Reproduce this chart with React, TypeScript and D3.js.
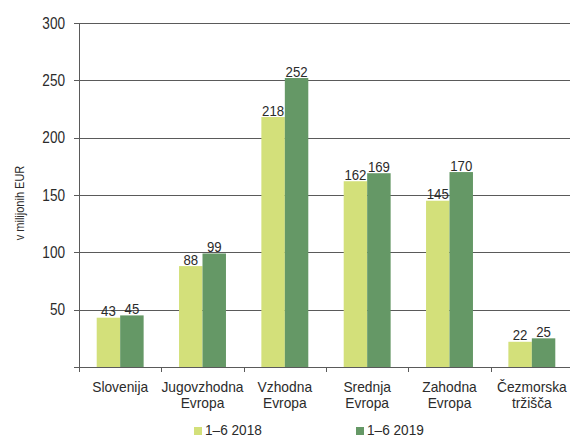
import { useEffect, useRef } from 'react'
import * as d3 from 'd3'

const categories = [
  ['Slovenija'],
  ['Jugovzhodna', 'Evropa'],
  ['Vzhodna', 'Evropa'],
  ['Srednja', 'Evropa'],
  ['Zahodna', 'Evropa'],
  ['Čezmorska', 'tržišča'],
]
const series2018 = [43, 88, 218, 162, 145, 22]
const series2019 = [45, 99, 252, 169, 170, 25]
const seriesNames = ['1–6 2018', '1–6 2019']
const yTicks = [50, 100, 150, 200, 250, 300]

export default function App() {
  const svgRef = useRef<SVGSVGElement>(null)

  useEffect(() => {
    if (!svgRef.current) return
    const svg = d3.select(svgRef.current)
    svg.selectAll('*').remove()

    const width = 570
    const height = 439
    const left = 79
    const right = 573
    const top = 23
    const bottom = 367
    const font = 'Liberation Sans, Arial, sans-serif'
    const colors = ['#d3e07a', '#659866']
    const textColor = '#2b2b2b'

    svg.attr('width', width).attr('height', height)

    const idx = categories.map((_, i) => String(i))
    const x = d3.scaleBand().domain(idx).range([left, right])
    const y = d3.scaleLinear().domain([0, 300]).range([bottom, top])
    const barW = x.bandwidth() * 0.285

    // narrow-looking text: scale glyphs horizontally
    const place = (tx: number, ty: number, sx: number) => `translate(${tx},${ty}) scale(${sx},1)`

    // gridlines
    svg.append('g')
      .selectAll('line')
      .data(yTicks)
      .enter().append('line')
      .attr('x1', left - 5)
      .attr('x2', width)
      .attr('y1', d => Math.round(y(d)) + 0.5)
      .attr('y2', d => Math.round(y(d)) + 0.5)
      .attr('stroke', '#5a5a5a')
      .attr('stroke-width', 1.2)

    svg.append('g')
      .selectAll('text')
      .data(yTicks)
      .enter().append('text')
      .attr('transform', d => place(left - 14, y(d), 0.85))
      .attr('dy', '0.36em')
      .attr('text-anchor', 'end')
      .style('font-family', font)
      .style('font-size', '16px')
      .style('fill', textColor)
      .text(d => d)

    const groups = svg.append('g')
      .selectAll('g')
      .data(idx)
      .enter().append('g')

    const data = [series2018, series2019]
    data.forEach((s, si) => {
      groups.append('rect')
        .attr('x', (d) => x(d)! + x.bandwidth() / 2 - barW + si * barW)
        .attr('y', (d) => y(s[+d]))
        .attr('width', barW)
        .attr('height', (d) => bottom - y(s[+d]))
        .attr('fill', colors[si])

      groups.append('text')
        .attr('transform', (d) => place(x(d)! + x.bandwidth() / 2 - barW / 2 + si * barW, y(s[+d]) - 1.5, 0.88))
        .attr('text-anchor', 'middle')
        .style('font-family', font)
        .style('font-size', '15px')
        .style('fill', textColor)
        .text((d) => s[+d])
    })

    // axes lines
    svg.append('line')
      .attr('x1', left + 0.5).attr('x2', left + 0.5)
      .attr('y1', top).attr('y2', bottom + 5)
      .attr('stroke', '#5a5a5a')
    svg.append('line')
      .attr('x1', left - 5).attr('x2', width)
      .attr('y1', bottom + 0.5).attr('y2', bottom + 0.5)
      .attr('stroke', '#5a5a5a')
      .attr('stroke-width', 1.2)
    svg.append('g')
      .selectAll('line')
      .data(idx.slice(1))
      .enter().append('line')
      .attr('x1', d => Math.round(x(d)!) + 0.5)
      .attr('x2', d => Math.round(x(d)!) + 0.5)
      .attr('y1', bottom)
      .attr('y2', bottom + 5)
      .attr('stroke', '#5a5a5a')

    // category labels
    groups.append('text')
      .attr('transform', d => place(x(d)! + x.bandwidth() / 2, 392, 0.92))
      .attr('text-anchor', 'middle')
      .style('font-family', font)
      .style('font-size', '15px')
      .style('fill', textColor)
      .selectAll('tspan')
      .data(d => categories[+d])
      .enter().append('tspan')
      .attr('x', 0)
      .attr('y', (_, i) => i * 16)
      .text(t => t)

    // y title
    svg.append('text')
      .attr('transform', 'translate(23.5, 203) rotate(-90) scale(0.88,1)')
      .attr('text-anchor', 'middle')
      .style('font-family', font)
      .style('font-size', '12.5px')
      .style('fill', textColor)
      .text('v milijonih EUR')

    // legend
    const legendX = [194, 356]
    seriesNames.forEach((n, i) => {
      svg.append('rect')
        .attr('x', legendX[i]).attr('y', 427)
        .attr('width', 8).attr('height', 8)
        .attr('fill', colors[i])
      svg.append('text')
        .attr('transform', place(legendX[i] + 11, 435, 0.88))
        .style('font-family', font)
        .style('font-size', '15.5px')
        .style('fill', textColor)
        .text(n)
    })
  }, [])

  return (
    <div style={{ position: 'absolute', left: 0, top: 0, width: 570, height: 439, overflow: 'hidden' }}>
      <svg ref={svgRef} style={{ display: 'block' }}></svg>
    </div>
  )
}
